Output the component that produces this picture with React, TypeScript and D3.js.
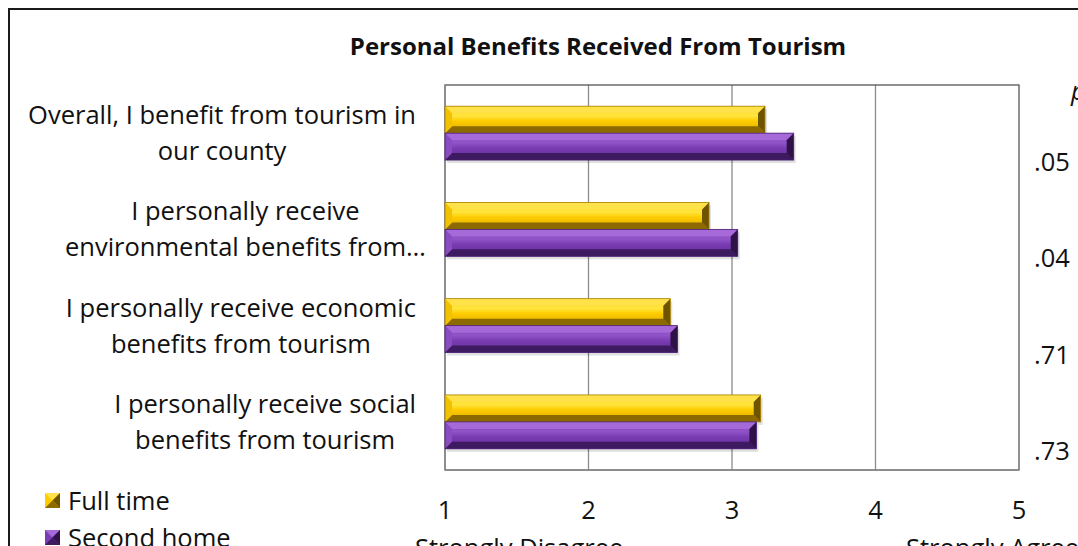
import React from "react";
import * as d3 from "d3";

const categories: string[][] = [
  ["Overall, I benefit from tourism in", "our county"],
  ["I personally receive", "environmental benefits from…"],
  ["I personally receive economic", "benefits from tourism"],
  ["I personally receive social", "benefits from tourism"],
];
const seriesNames = ["Full time", "Second home"];
const fullTime = [3.23, 2.84, 2.57, 3.2];
const secondHome = [3.43, 3.04, 2.62, 3.17];
const pValues = [".05", ".04", ".71", ".73"];
const xTicks = [1, 2, 3, 4, 5];
const title = "Personal Benefits Received From Tourism";

const W = 1078;
const H = 546;
const FONT = "'Open Sans', Lato, sans-serif";
const FS = 25.5;

const palettes = [
  { top: "#FFE24A", face: "#FFCC00", faceHi: "#FFE640", faceLo: "#D9AA00", bottom: "#8C6A00", left: "#F2C200", right: "#6E5300", edge: "#A88000" },
  { top: "#A66AD8", face: "#7A3DB4", faceHi: "#9254C8", faceLo: "#5F2C8E", bottom: "#3E1A60", left: "#8A4CC2", right: "#2E1248", edge: "#4B2475" },
];

let measureCtx: CanvasRenderingContext2D | null = null;
function measure(text: string, font: string): number {
  if (!measureCtx) {
    const c = document.createElement("canvas");
    measureCtx = c.getContext("2d");
  }
  if (!measureCtx) return text.length * 11;
  measureCtx.font = font;
  return measureCtx.measureText(text).width;
}

function BevelBar({ x0, x1, y0, y1, p, id }: { x0: number; x1: number; y0: number; y1: number; p: any; id: string }) {
  const h = y1 - y0;
  const b = Math.min(7, h / 3.5);
  return (
    <g>
      <rect x={x0 + 2} y={y0 + 3} width={x1 - x0} height={h} fill="#000" opacity={0.12} />
      <rect x={x0} y={y0} width={x1 - x0} height={h} fill={`url(#${id})`} />
      <polygon points={`${x0},${y0} ${x1},${y0} ${x1 - b},${y0 + b} ${x0 + b},${y0 + b}`} fill={p.top} />
      <polygon points={`${x0},${y1} ${x1},${y1} ${x1 - b},${y1 - b} ${x0 + b},${y1 - b}`} fill={p.bottom} />
      <polygon points={`${x0},${y0} ${x0 + b},${y0 + b} ${x0 + b},${y1 - b} ${x0},${y1}`} fill={p.left} />
      <polygon points={`${x1},${y0} ${x1 - b},${y0 + b} ${x1 - b},${y1 - b} ${x1},${y1}`} fill={p.right} />
      <rect x={x0} y={y0} width={x1 - x0} height={h} fill="none" stroke={p.edge} strokeWidth={0.8} />
    </g>
  );
}

export default function App() {
  const plot = { left: 445, right: 1019, top: 85, bottom: 470 };
  const x = d3.scaleLinear().domain([1, 5]).range([plot.left, plot.right]);
  const y = d3
    .scaleBand<number>()
    .domain(d3.range(categories.length))
    .range([plot.top, plot.bottom])
    .paddingInner(0.44)
    .paddingOuter(0.22);
  const inner = d3.scaleBand<number>().domain([0, 1]).range([0, y.bandwidth()]);
  const series = [fullTime, secondHome];

  const labelRight = 416;

  return (
    <svg
      width={W}
      height={H}
      style={{ position: "absolute", left: 0, top: 0, background: "#fff" }}
      fontFamily={FONT}
    >
      <defs>
        {palettes.map((p, i) => (
          <linearGradient key={i} id={`face${i}`} x1="0" y1="0" x2="0" y2="1">
            <stop offset="0" stopColor={p.face} />
            <stop offset="0.35" stopColor={p.faceHi} />
            <stop offset="0.55" stopColor={p.face} />
            <stop offset="1" stopColor={p.faceLo} />
          </linearGradient>
        ))}
      </defs>
      <rect x={0} y={0} width={W} height={H} fill="#fff" />
      {/* outer frame */}
      <path d={`M9,${H} L9,9 L${W},9`} fill="none" stroke="#1a1a1a" strokeWidth={2} />

      {/* title */}
      <text x={598} y={55} textAnchor="middle" fontSize={24} fontWeight="bold" fill="#111">
        {title}
      </text>

      {/* gridlines */}
      {xTicks.slice(1, -1).map((t) => (
        <line key={t} x1={x(t)} x2={x(t)} y1={plot.top} y2={plot.bottom} stroke="#8c8c8c" strokeWidth={1.3} />
      ))}
      {/* plot box */}
      <rect
        x={plot.left}
        y={plot.top}
        width={plot.right - plot.left}
        height={plot.bottom - plot.top}
        fill="none"
        stroke="#555"
        strokeWidth={1.3}
      />
      <line x1={plot.left} x2={plot.right} y1={plot.bottom} y2={plot.bottom} stroke="#8c8c8c" strokeWidth={1.5} />
      <line x1={plot.left} x2={plot.left} y1={plot.top} y2={plot.bottom} stroke="#8c8c8c" strokeWidth={1.5} />

      {/* bars */}
      {categories.map((_, ci) =>
        series.map((vals, si) => {
          const y0 = (y(ci) as number) + (inner(si) as number);
          return (
            <BevelBar
              key={`${ci}-${si}`}
              x0={x(1)}
              x1={x(vals[ci])}
              y0={y0}
              y1={y0 + inner.bandwidth()}
              p={palettes[si]}
              id={`face${si}`}
            />
          );
        })
      )}

      {/* category labels */}
      {categories.map((lines, ci) => {
        const maxW = d3.max(lines, (l) => measure(l.replace("…", ""), `${FS}px ${FONT}`)) as number;
        const cx = labelRight - maxW / 2;
        const cy = (y(ci) as number) + y.bandwidth() / 2;
        return (
          <text key={ci} textAnchor="middle" fontSize={FS} fill="#111">
            {lines.map((l, li) => (
              <tspan key={li} x={cx} y={cy - 9 + li * 36}>
                {l}
              </tspan>
            ))}
          </text>
        );
      })}

      {/* x tick labels */}
      {xTicks.map((t) => (
        <text key={t} x={x(t)} y={519} textAnchor="middle" fontSize={FS} fill="#111">
          {t}
        </text>
      ))}
      <text x={415} y={557} fontSize={FS} fill="#111">Strongly Disagree</text>
      <text x={906} y={557} fontSize={FS} fill="#111">Strongly Agree</text>

      {/* p values */}
      <text x={1071} y={100} fontSize={FS} fontStyle="italic" fill="#111">p</text>
      {pValues.map((pv, ci) => (
        <text key={ci} x={1034} y={(y(ci) as number) + y.bandwidth() / 2 + 38} fontSize={FS} fill="#111">
          {pv}
        </text>
      ))}

      {/* legend */}
      {seriesNames.map((name, si) => {
        const ly = 493 + si * 37;
        const p = palettes[si];
        const s = 15;
        const lx = 45;
        const c = s / 2;
        return (
          <g key={si}>
            <rect x={lx} y={ly} width={s} height={s} fill={p.face} />
            <polygon points={`${lx},${ly} ${lx + s},${ly} ${lx + c},${ly + c}`} fill={p.top} />
            <polygon points={`${lx},${ly + s} ${lx + s},${ly + s} ${lx + c},${ly + c}`} fill={p.bottom} />
            <polygon points={`${lx + s},${ly} ${lx + s},${ly + s} ${lx + c},${ly + c}`} fill={p.right} />
            <text x={68} y={ly + 17} fontSize={FS} fill="#111">
              {name}
            </text>
          </g>
        );
      })}
    </svg>
  );
}
